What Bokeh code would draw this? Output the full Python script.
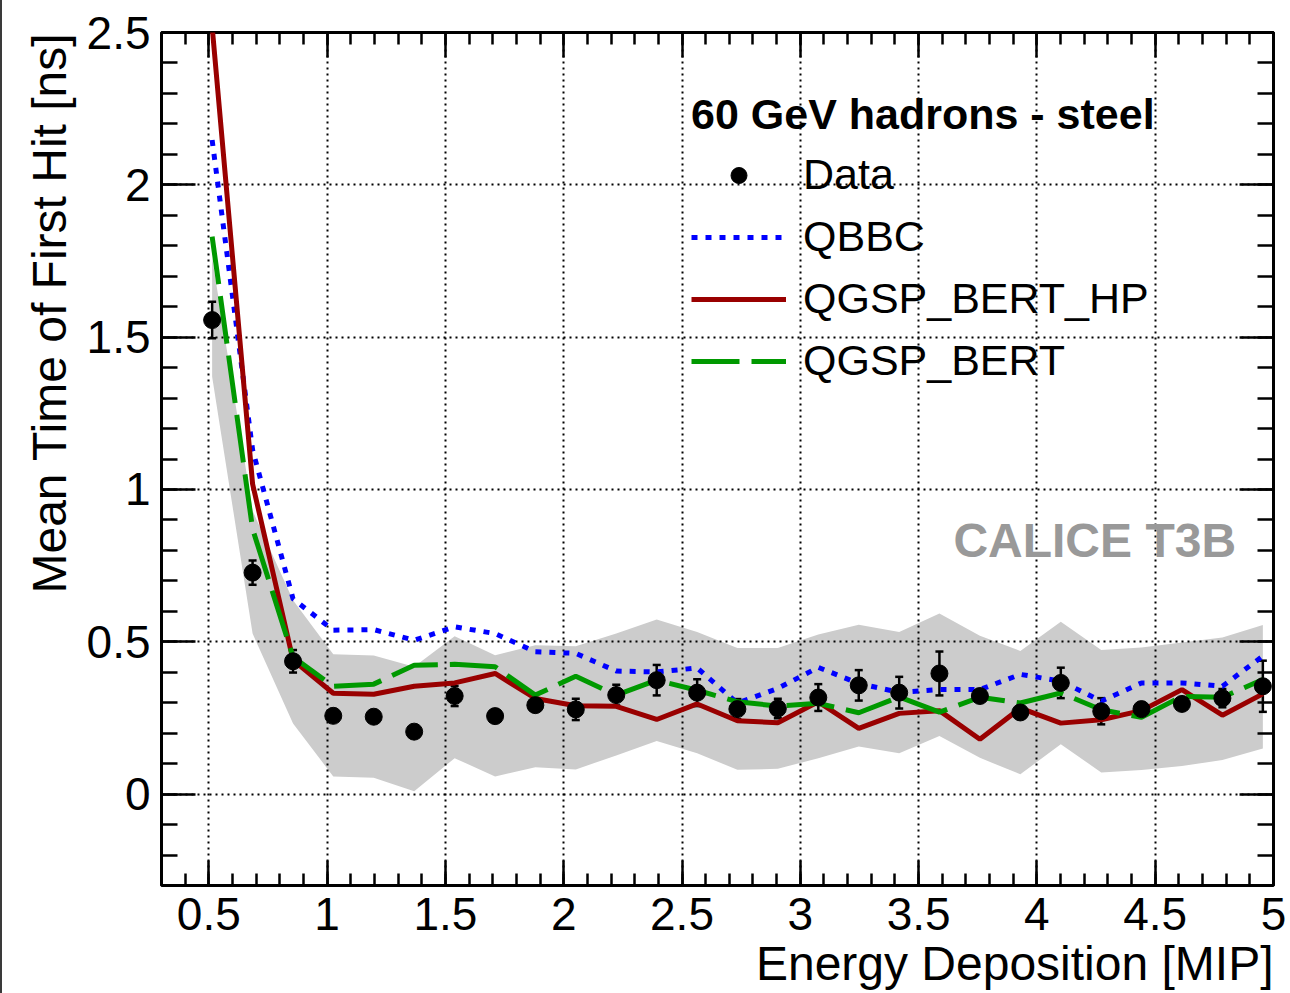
from bokeh.plotting import figure
from bokeh.models import (Range1d, LinearAxis, Title, Label, Whisker, TeeHead,
                          ColumnDataSource, Legend, LegendItem, SingleIntervalTicker,
                          CustomJSTickFormatter)
from bokeh.embed import file_html
from bokeh.resources import INLINE

# ---------------- data ----------------
energy = [0.514, 0.685, 0.856, 1.026, 1.197, 1.368, 1.539, 1.710, 1.880, 2.051,
          2.222, 2.393, 2.564, 2.734, 2.905, 3.076, 3.247, 3.418, 3.588, 3.759,
          3.930, 4.101, 4.272, 4.442, 4.613, 4.784, 4.955]

data_time = [1.556, 0.727, 0.436, 0.257, 0.254, 0.205, 0.322, 0.256, 0.292, 0.278,
             0.325, 0.374, 0.333, 0.279, 0.281, 0.317, 0.357, 0.333, 0.396, 0.322,
             0.268, 0.365, 0.272, 0.279, 0.296, 0.315, 0.354]
data_err = [0.060, 0.040, 0.037, 0.010, 0.010, 0.010, 0.033, 0.010, 0.016, 0.035,
            0.034, 0.050, 0.044, 0.033, 0.032, 0.044, 0.050, 0.052, 0.072, 0.020,
            0.020, 0.050, 0.043, 0.015, 0.015, 0.030, 0.084]

band_high = [1.760, 0.930, 0.636, 0.459, 0.455, 0.418, 0.518, 0.456, 0.489, 0.485,
             0.527, 0.573, 0.532, 0.480, 0.480, 0.524, 0.556, 0.532, 0.593, 0.520,
             0.470, 0.566, 0.473, 0.481, 0.498, 0.514, 0.555]
band_low = [1.370, 0.527, 0.232, 0.058, 0.054, 0.009, 0.118, 0.058, 0.088, 0.081,
            0.127, 0.174, 0.134, 0.080, 0.083, 0.118, 0.156, 0.134, 0.191, 0.119,
            0.065, 0.164, 0.071, 0.079, 0.092, 0.112, 0.150]

qbbc = [2.147, 1.130, 0.641, 0.538, 0.540, 0.505, 0.549, 0.527, 0.467, 0.462,
        0.404, 0.401, 0.414, 0.299, 0.347, 0.416, 0.363, 0.334, 0.343, 0.343,
        0.393, 0.371, 0.305, 0.365, 0.365, 0.354, 0.453]
qgsp_bert_hp = [2.520, 1.018, 0.440, 0.331, 0.328, 0.354, 0.365, 0.396, 0.314, 0.290,
                0.288, 0.245, 0.296, 0.241, 0.234, 0.303, 0.216, 0.265, 0.274, 0.180,
                0.282, 0.233, 0.244, 0.274, 0.343, 0.259, 0.329]
qgsp_bert = [1.830, 0.870, 0.450, 0.354, 0.361, 0.423, 0.426, 0.418, 0.325, 0.387,
             0.325, 0.374, 0.341, 0.303, 0.289, 0.298, 0.267, 0.319, 0.269, 0.318,
             0.299, 0.332, 0.277, 0.252, 0.321, 0.318, 0.376]

x_label = "Energy Deposition [MIP]"
y_label = "Mean Time of First Hit [ns]"
legend_title = "60 GeV hadrons - steel"
series_names = ["Data", "QBBC", "QGSP_BERT_HP", "QGSP_BERT"]
watermark = "CALICE T3B"

FONT = "Liberation Sans"

src = ColumnDataSource(dict(
    x=energy, y=data_time,
    upper=[v + e for v, e in zip(data_time, data_err)],
    lower=[v - e for v, e in zip(data_time, data_err)],
    hi=band_high, lo=band_low,
    qbbc=qbbc, hp=qgsp_bert_hp, bert=qgsp_bert,
))

p = figure(width=1288, height=993,
           x_range=Range1d(0.3, 5.0), y_range=Range1d(-0.3, 2.5),
           output_backend="svg", toolbar_location=None,
           min_border_left=159, min_border_right=17,
           min_border_top=32, min_border_bottom=108)
p.styles = {"border-left": "2px solid #3a3a3a"}
p.background_fill_color = "white"
p.border_fill_color = "white"
p.outline_line_color = "black"
p.outline_line_width = 3

fmt = CustomJSTickFormatter(code="return Number(tick.toFixed(2)).toString();")
blank = CustomJSTickFormatter(code="return '';")

def style_axis(ax, major_in, minor_in, labels=True):
    ax.ticker = SingleIntervalTicker(interval=0.5, num_minor_ticks=5)
    ax.axis_line_color = None
    ax.major_tick_in = major_in
    ax.major_tick_out = 0
    ax.minor_tick_in = minor_in
    ax.minor_tick_out = 0
    ax.major_tick_line_color = "black"
    ax.minor_tick_line_color = "black"
    ax.major_tick_line_width = 2.5
    ax.minor_tick_line_width = 2.5
    if labels:
        ax.formatter = fmt
        ax.major_label_text_font = FONT
        ax.major_label_text_font_size = "46px"
        ax.major_label_text_color = "black"
    else:
        ax.formatter = blank
        ax.major_label_text_font_size = "0px"
        ax.major_label_standoff = 0

style_axis(p.xaxis[0], 25, 12)
p.xaxis[0].major_label_standoff = 12
style_axis(p.yaxis[0], 34, 16)
p.yaxis[0].major_label_standoff = 11

top_ax = LinearAxis()
style_axis(top_ax, 25, 12, labels=False)
p.add_layout(top_ax, "above")
right_ax = LinearAxis()
style_axis(right_ax, 34, 16, labels=False)
p.add_layout(right_ax, "right")

for g in (p.xgrid[0], p.ygrid[0]):
    g.grid_line_color = "black"
    g.grid_line_dash = "2 4"
    g.grid_line_width = 2
p.xgrid[0].ticker = p.xaxis[0].ticker
p.ygrid[0].ticker = p.yaxis[0].ticker

# axis titles (ROOT style: right / top aligned)
xt = Title(text=x_label, align="right", text_font=FONT, text_font_size="48px",
           text_font_style="normal", text_color="black", standoff=5, offset=0)
p.add_layout(xt, "below")
yt = Title(text=y_label, align="right", text_font=FONT, text_font_size="48px",
           text_font_style="normal", text_color="black", standoff=15, offset=0)
p.add_layout(yt, "left")

# systematic band
p.varea(x="x", y1="lo", y2="hi", source=src, fill_color="#cccccc", level="image")

r_qbbc = p.line("x", "qbbc", source=src, line_color="#0000ff", line_width=5,
                line_dash="6 8")
r_hp = p.line("x", "hp", source=src, line_color="#990000", line_width=5)
r_bert = p.line("x", "bert", source=src, line_color="#009900", line_width=5,
                line_dash="48 12")

p.add_layout(Whisker(base="x", upper="upper", lower="lower", source=src,
                     dimension="height", line_color="black", line_width=2.5,
                     upper_head=TeeHead(size=8, line_width=2.5, line_color="black"),
                     lower_head=TeeHead(size=8, line_width=2.5, line_color="black")))
r_data = p.scatter("x", "y", source=src, size=17, marker="circle",
                   fill_color="black", line_color="black")

legend = Legend(items=[LegendItem(label=series_names[0], renderers=[r_data]),
                       LegendItem(label=series_names[1], renderers=[r_qbbc]),
                       LegendItem(label=series_names[2], renderers=[r_hp]),
                       LegendItem(label=series_names[3], renderers=[r_bert])],
                location=(530, 500),
                title=legend_title, title_text_font=FONT, title_text_font_size="43px",
                title_text_font_style="bold", title_text_color="black", title_standoff=11,
                label_text_font=FONT, label_text_font_size="43px", label_text_color="black",
                glyph_width=95, glyph_height=40, label_height=40,
                label_standoff=17, spacing=13, padding=0, margin=0,
                border_line_color=None, background_fill_alpha=0)
p.add_layout(legend)

p.add_layout(Label(x=3.647, y=0.833, text=watermark, text_font=FONT,
                   text_font_size="48px", text_font_style="bold",
                   text_color="#999999", text_baseline="alphabetic"))

open("out.html", "w").write(file_html(p, INLINE))
